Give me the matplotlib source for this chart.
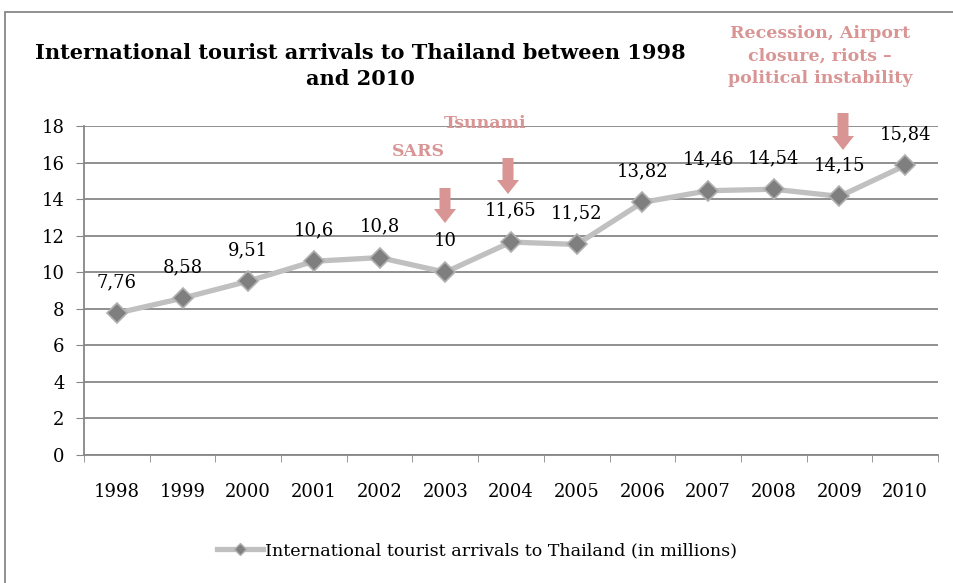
import matplotlib.pyplot as plt
from matplotlib.patches import Polygon, Rectangle
from matplotlib.lines import Line2D

years = ['1998', '1999', '2000', '2001', '2002', '2003', '2004',
         '2005', '2006', '2007', '2008', '2009', '2010']
arrivals = [7.76, 8.58, 9.51, 10.6, 10.8, 10, 11.65, 11.52, 13.82, 14.46, 14.54, 14.15, 15.84]
series_name = 'International tourist arrivals to Thailand (in millions)'
title = 'International tourist arrivals to Thailand between 1998\nand 2010'

plt.rcParams['font.family'] = ['DejaVu Serif']
W, H = 954, 583
fig = plt.figure(figsize=(W / 100, H / 100), dpi=100)
note_col = '#D99594'
grid_col = '#878787'


def fx(x):
    return x / W


def fy(y):
    return 1 - y / H


# outer chart border
fig.patches.append(Rectangle((fx(5), fy(600)), fx(960), fy(12) - fy(600), transform=fig.transFigure,
                             fill=False, edgecolor='#888888', lw=1.3))

ax = fig.add_axes([fx(84), fy(455), fx(938) - fx(84), fy(126) - fy(455)])
x = list(range(len(years)))
ax.plot(x, arrivals, color='#C0C0C0', lw=3.8, marker='D', markersize=10,
        markerfacecolor='#7F7F7F', markeredgecolor='#B0B0B0', markeredgewidth=1.2, zorder=3)
for xi, v in zip(x, arrivals):
    lab = ('%g' % v).replace('.', ',')
    ax.annotate(lab, (xi, v), xytext=(0, 22.5), textcoords='offset points', ha='center', va='center',
                fontsize=13)

ax.set_xlim(-0.5, len(years) - 0.5)
ax.set_ylim(0, 18)
ax.set_yticks(range(0, 19, 2))
ax.set_xticks(x)
ax.set_xticklabels(years)
ax.set_xticks([i - 0.5 for i in range(len(years) + 1)], minor=True)
ax.tick_params(axis='x', which='major', length=0, labelsize=13, pad=20)
ax.tick_params(axis='x', which='minor', length=5, color=grid_col, direction='out')
ax.tick_params(axis='y', length=6, color=grid_col, labelsize=13, pad=8)
ax.grid(axis='y', color=grid_col, lw=1.3)
ax.set_axisbelow(True)
for s in ['top', 'right']:
    ax.spines[s].set_visible(False)
ax.spines['left'].set_color(grid_col)
ax.spines['bottom'].set_color(grid_col)
ax.spines['left'].set_linewidth(1.3)
ax.spines['bottom'].set_linewidth(1.3)

fig.text(fx(360), fy(66), title, ha='center', va='center', fontsize=15, fontweight='bold',
         linespacing=1.4)


def down_arrow(cx, top, bottom):
    tail_half, head_half, head_len = 5.5, 11, 14
    pts = [(cx - tail_half, top), (cx + tail_half, top), (cx + tail_half, bottom - head_len),
           (cx + head_half, bottom - head_len), (cx, bottom), (cx - head_half, bottom - head_len),
           (cx - tail_half, bottom - head_len)]
    fig.patches.append(Polygon([(fx(a), fy(b)) for a, b in pts], closed=True, transform=fig.transFigure,
                               facecolor=note_col, edgecolor='none', zorder=5))


fig.text(fx(418), fy(151), 'SARS', color=note_col, fontsize=12.5, fontweight='bold', ha='center', va='center')
down_arrow(445, 188, 223)
fig.text(fx(485), fy(123), 'Tsunami', color=note_col, fontsize=12.5, fontweight='bold', ha='center', va='center')
down_arrow(508, 158, 194)
fig.text(fx(820), fy(56), 'Recession, Airport\nclosure, riots \u2013\npolitical instability', color=note_col,
         fontsize=12.5, fontweight='bold', ha='center', va='center', linespacing=1.45)
down_arrow(843, 113, 150)

handle = Line2D([], [], color='#C0C0C0', lw=3.8, marker='D', markersize=6,
                markerfacecolor='#7F7F7F', markeredgecolor='#B0B0B0')
fig.legend([handle], [series_name], loc='center', bbox_to_anchor=(fx(477), fy(551)), frameon=False,
           fontsize=12.6, handlelength=2.6, handletextpad=0.1)

fig.savefig('out.png', dpi=100)
